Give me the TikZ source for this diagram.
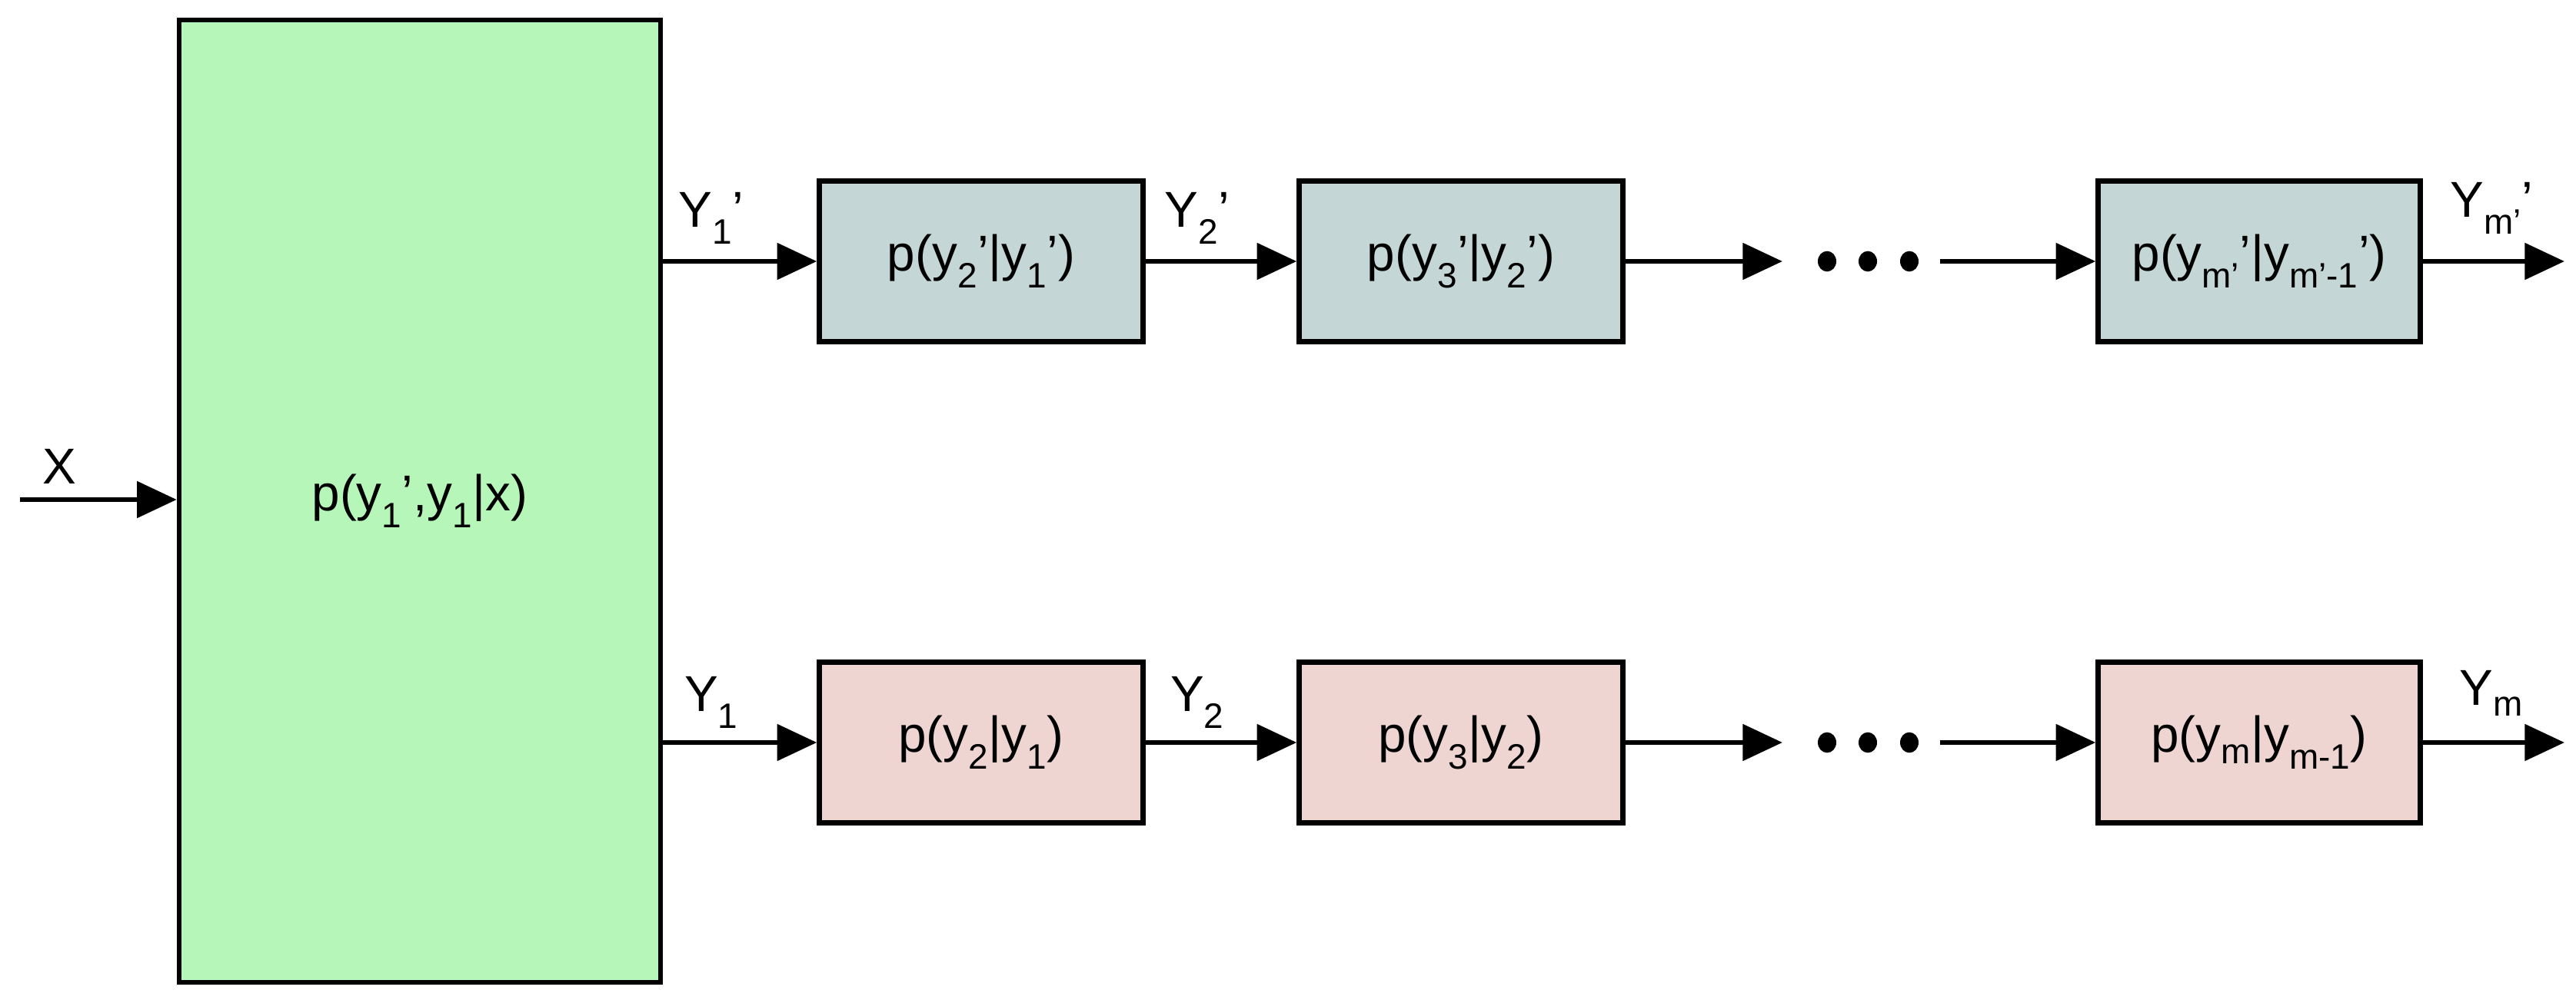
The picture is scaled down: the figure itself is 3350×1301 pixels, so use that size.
\documentclass[tikz,border=0pt]{standalone}
\usepackage{fontspec}
\setmainfont{Liberation Sans}
\usetikzlibrary{arrows.meta}
\definecolor{cgreen}{HTML}{B6F7B9}
\definecolor{cgray}{HTML}{C4D6D5}
\definecolor{cpink}{HTML}{EED5D1}
\newcommand{\sbs}[1]{\textsubscript{#1}}
\begin{document}
\begin{tikzpicture}[x=0.03cm,y=-0.03cm,
  box/.style={draw,line width=5.5pt,inner sep=0pt,font=\fontsize{56}{60}\selectfont},
  lab/.style={font=\fontsize{56}{60}\selectfont,inner sep=0pt},
  arr/.style={line width=5.5pt,-{Triangle[length=1.55cm,width=1.4cm]}},
  ln/.style={line width=5.5pt}]
\useasboundingbox (0,0) rectangle (3350,1301);
\node[box,fill=cgreen,minimum width=626*0.03cm,minimum height=1252*0.03cm] (g) at (546,652) {p(y\sbs{1}’,y\sbs{1}|x)};
\node[box,fill=cgray,minimum width=421*0.03cm,minimum height=209*0.03cm] (a1) at (1276,340) {p(y\sbs{2}’|y\sbs{1}’)};
\node[box,fill=cgray,minimum width=421*0.03cm,minimum height=209*0.03cm] (a2) at (1900,340) {p(y\sbs{3}’|y\sbs{2}’)};
\node[box,fill=cgray,minimum width=419*0.03cm,minimum height=209*0.03cm] (a3) at (2938,340) {p(y\sbs{m’}’|y\sbs{m’-1}’)};
\node[box,fill=cpink,minimum width=421*0.03cm,minimum height=209*0.03cm] (b1) at (1276,966) {p(y\sbs{2}|y\sbs{1})};
\node[box,fill=cpink,minimum width=421*0.03cm,minimum height=209*0.03cm] (b2) at (1900,966) {p(y\sbs{3}|y\sbs{2})};
\node[box,fill=cpink,minimum width=419*0.03cm,minimum height=209*0.03cm] (b3) at (2938,966) {p(y\sbs{m}|y\sbs{m-1})};
\coordinate (xin) at (26,650);
\coordinate (ta) at (2318,340); \coordinate (tb) at (2523,340);
\coordinate (ba) at (2318,966); \coordinate (bb) at (2523,966);
\coordinate (tout) at (3335,340); \coordinate (bout) at (3335,966);
\draw[arr] (xin) -- (xin -| g.west);
\draw[arr] (g.east |- a1) -- (a1);
\draw[arr] (a1) -- (a2);
\draw[arr] (a2) -- (ta);
\draw[arr] (tb) -- (a3);
\draw[arr] (a3) -- (tout);
\draw[arr] (g.east |- b1) -- (b1);
\draw[arr] (b1) -- (b2);
\draw[arr] (b2) -- (ba);
\draw[arr] (bb) -- (b3);
\draw[arr] (b3) -- (bout);
\foreach \x in {2376,2429,2483}{
  \fill (\x,340) ellipse (0.36cm and 0.4cm);
  \fill (\x,966) ellipse (0.36cm and 0.4cm);}
\node[lab] (lx) at (77,607) {X};
\node[lab] (l1) at (925,284) {Y\sbs{1}’};
\node[lab] (l2) at (1557,284) {Y\sbs{2}’};
\node[lab] (l3) at (3240,271) {Y\sbs{m’}’};
\node[lab] (m1) at (925,914) {Y\sbs{1}};
\node[lab] (m2) at (1557,914) {Y\sbs{2}};
\node[lab] (m3) at (3240,902) {Y\sbs{m}};
\end{tikzpicture}
\end{document}
